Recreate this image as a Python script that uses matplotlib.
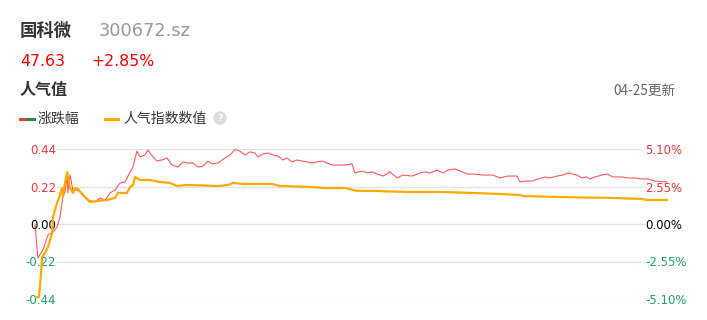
import matplotlib.pyplot as plt
from matplotlib.lines import Line2D
from matplotlib.patches import Ellipse

# 分钟序号 (0 = 09:30, 120 = 11:30/13:00, 240 = 15:00)
pct_minutes = [0, 1.1, 3.0, 4.9, 6.8, 8.4, 9.5, 10.6, 11.4, 12.2, 12.5, 13.3, 14.4, 15.9,
               17.8, 20.1, 22.8, 24.7, 26.6, 28.5, 30.4, 32.3, 34.2, 36.1, 37.2, 38.7,
               39.9, 41.8, 42.9, 44.8, 46.3, 48.2, 50.1, 52.0, 54.3, 56.2, 58.1, 60.0,
               61.9, 63.8, 65.7, 67.2, 69.5, 72.2, 74.1, 75.9, 77.8, 79.7, 81.6, 83.5,
               84.7, 86.6, 88.5, 90.4, 92.3, 94.2, 95.7, 97.6, 99.5, 101.4, 103.3, 105.2,
               107.1, 109.0, 110.9, 112.8, 117.7, 120.4, 121.5, 124.2, 126.1, 128.0,
               129.9, 132.2, 134.8, 137.5, 139.7, 143.2, 146.2, 148.1, 150.0, 152.7,
               154.9, 156.8, 159.5, 162.2, 164.4, 166.3, 170.1, 173.9, 176.6, 179.6,
               183.0, 184.2, 186.1, 188.7, 191.0, 193.7, 195.6, 198.2, 200.5, 202.4,
               205.8, 207.7, 209.6, 210.8, 212.7, 215.3, 217.2, 219.5, 222.9, 225.2,
               227.8, 230.5, 232.8, 235.4, 240]
pct_values = [0.00, -2.31, -1.77, -0.75, -0.54, -0.20, 0.48, 1.84, 2.18, 3.33, 2.11, 3.33,
              2.31, 2.31, 2.11, 1.63, 1.50, 1.77, 1.63, 2.11, 2.31, 2.79, 2.86, 3.54, 3.88,
              4.96, 4.56, 4.69, 5.03, 4.56, 4.28, 4.35, 4.49, 4.01, 3.88, 4.22, 4.15, 4.15,
              3.88, 3.94, 4.28, 4.08, 4.15, 4.49, 4.69, 5.08, 4.96, 4.69, 4.90, 4.83, 4.56,
              4.76, 4.83, 4.69, 4.62, 4.35, 4.49, 4.22, 4.35, 4.28, 4.22, 4.15, 4.22, 4.28,
              4.15, 4.01, 4.01, 4.08, 3.47, 3.60, 3.47, 3.54, 3.40, 3.26, 3.54, 3.13, 3.33,
              3.26, 3.47, 3.54, 3.47, 3.67, 3.47, 3.67, 3.74, 3.54, 3.40, 3.40, 3.33, 3.33,
              3.13, 3.26, 3.26, 2.86, 2.92, 2.92, 3.06, 3.20, 3.13, 3.26, 3.33, 3.47, 3.33,
              3.13, 3.20, 3.06, 3.20, 3.33, 3.40, 3.20, 3.20, 3.13, 3.13, 3.06, 3.06, 2.92,
              2.86]

hot_minutes = [0.8, 1.5, 2.3, 2.7, 3.8, 4.9, 6.5, 6.8, 8.4, 9.1, 10.3, 10.6, 11.4, 12.2,
               12.5, 13.3, 14.4, 15.2, 16.3, 18.2, 20.9, 23.5, 27.3, 30.4, 31.5, 34.9,
               36.1, 37.2, 38.0, 39.9, 43.7, 47.5, 51.3, 53.9, 57.7, 69.5, 73.3, 75.2,
               79.0, 90.0, 93.0, 105.2, 110.1, 117.7, 119.6, 122.3, 128.4, 141.3, 153.8,
               166.3, 176.6, 184.2, 185.3, 200.1, 219.1, 230.5, 232.4, 240]
hot_values = [-0.428, -0.428, -0.287, -0.194, -0.170, -0.135, -0.053, 0.041, 0.123, 0.153,
              0.211, 0.158, 0.241, 0.305, 0.276, 0.211, 0.182, 0.211, 0.205, 0.170, 0.129,
              0.135, 0.141, 0.153, 0.182, 0.182, 0.217, 0.229, 0.276, 0.258, 0.258, 0.246,
              0.241, 0.223, 0.229, 0.223, 0.229, 0.241, 0.235, 0.235, 0.223, 0.217, 0.211,
              0.211, 0.205, 0.194, 0.194, 0.188, 0.188, 0.182, 0.176, 0.170, 0.164, 0.158,
              0.153, 0.147, 0.141, 0.141]

left_ticks = [-0.44, -0.22, 0.00, 0.22, 0.44]
left_labels = ['-0.44', '-0.22', '0.00', '0.22', '0.44']
right_ticks = [-5.10, -2.55, 0.00, 2.55, 5.10]
right_labels = ['-5.10%', '-2.55%', '0.00%', '2.55%', '5.10%']
x_ticks = [0, 120, 240]
x_labels = ['09:30', '11:30/13:00', '15:00']

RED = '#f5383b'
GREEN = '#1f9e78'
ORANGE = '#ffaa00'
CJK = ['Noto Sans CJK SC', 'DejaVu Sans']

W, H = 707, 320
fig = plt.figure(figsize=(W / 100, H / 100), dpi=100)


def fx(px):
    return px / W


def fy(py):
    return 1 - py / H


# 头部文字
fig.text(fx(20), fy(31), '国科微', family=CJK, fontsize=12.5, weight='bold',
         color='#333333', va='center')
fig.text(fx(99), fy(31), '300672.sz', fontsize=12.8, color='#999999', va='center')
fig.text(fx(20), fy(61), '47.63', fontsize=11.3, color='#ff0000', va='center')
fig.text(fx(91), fy(61), '+2.85%', fontsize=11.3, color='#ff0000', va='center')
fig.text(fx(20), fy(90), '人气值', family=CJK, fontsize=11.5, weight='bold',
         color='#333333', va='center')
fig.text(fx(676), fy(91), '04-25更新', family=CJK, fontsize=9.8, color='#666666',
         va='center', ha='right')

# 图例
fig.add_artist(Line2D([fx(20), fx(27)], [fy(119), fy(119)], color='#e8412c', lw=2.2))
fig.add_artist(Line2D([fx(27), fx(34)], [fy(119), fy(119)], color='#2e8b3e', lw=2.2))
fig.text(fx(38), fy(119), '涨跌幅', family=CJK, fontsize=10, color='#333333', va='center')
fig.add_artist(Line2D([fx(105), fx(118)], [fy(119), fy(119)], color=ORANGE, lw=2.2))
fig.text(fx(123), fy(119), '人气指数数值', family=CJK, fontsize=10, color='#333333',
         va='center')
fig.add_artist(Ellipse((fx(220), fy(118)), 12 / W, 12 / H, color='#dcdcdc'))
fig.text(fx(220), fy(118.5), '?', fontsize=6.5, color='white', ha='center', va='center',
         weight='bold')

# 图表区
ax = fig.add_axes([fx(35), 21 / H, 632 / W, 150 / H])
ax2 = ax.twinx()
ax.set_zorder(ax2.get_zorder() + 1)
ax.patch.set_visible(False)

ax.set_xlim(0, 240)
ax.set_ylim(-0.44, 0.44)
ax2.set_ylim(-5.10, 5.10)

for a in (ax, ax2):
    for s in a.spines.values():
        s.set_visible(False)

ax2.hlines(right_ticks, 21 * 240 / 632, (645 - 35) * 240 / 632,
           color='#e1e4ec', lw=1, zorder=0.5)

ax2.plot(pct_minutes, pct_values, color='#ff5a5a', lw=0.8, clip_on=False, zorder=2)
ax.plot(hot_minutes, hot_values, color=ORANGE, lw=1.6, clip_on=False, zorder=3)

ax.set_yticks(left_ticks)
ax.set_yticklabels(left_labels)
ax.tick_params(axis='y', length=0, pad=-15.1, labelsize=8.5)
for lab in ax.get_yticklabels():
    lab.set_horizontalalignment('right')
ax2.set_yticks(right_ticks)
ax2.set_yticklabels(right_labels)
ax2.tick_params(axis='y', length=0, pad=-15.8, labelsize=8.5)
ax.yaxis.set_zorder(1)
ax2.yaxis.set_zorder(1)


def tick_color(v):
    if v > 0:
        return RED
    if v < 0:
        return GREEN
    return '#000000'


for lab, v in zip(ax.get_yticklabels(), left_ticks):
    lab.set_color(tick_color(v))
for lab, v in zip(ax2.get_yticklabels(), right_ticks):
    lab.set_color(tick_color(v))

ax.set_xticks(x_ticks)
ax.set_xticklabels(x_labels)
ax.tick_params(axis='x', length=0, pad=17, labelsize=9.5, labelcolor='#333333')
ax2.tick_params(axis='x', length=0)

fig.savefig('out.png', dpi=100)
